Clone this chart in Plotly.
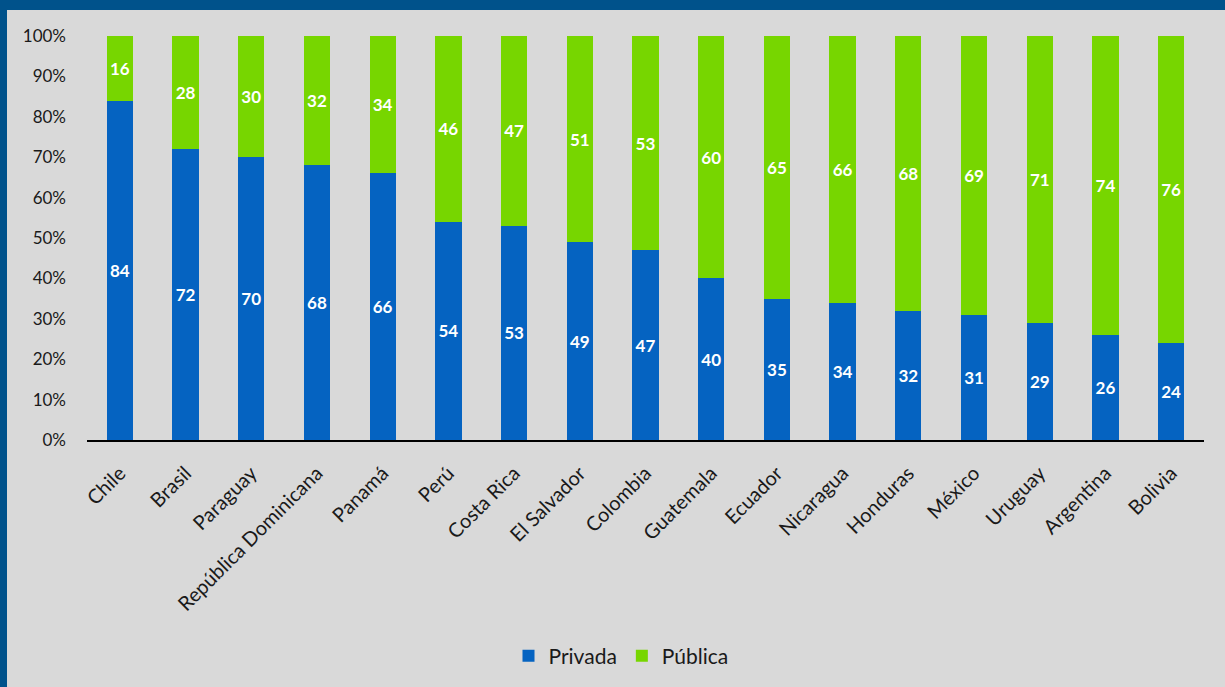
import plotly.graph_objects as go

countries = ["Chile", "Brasil", "Paraguay", "República Dominicana", "Panamá", "Perú",
             "Costa Rica", "El Salvador", "Colombia", "Guatemala", "Ecuador", "Nicaragua",
             "Honduras", "México", "Uruguay", "Argentina", "Bolivia"]
privada = [84, 72, 70, 68, 66, 54, 53, 49, 47, 40, 35, 34, 32, 31, 29, 26, 24]
publica = [16, 28, 30, 32, 34, 46, 47, 51, 53, 60, 65, 66, 68, 69, 71, 74, 76]
y_ticks = [0, 10, 20, 30, 40, 50, 60, 70, 80, 90, 100]
y_tick_labels = [f"{v}%" for v in y_ticks]

BLUE = "#0563c1"
GREEN = "#77d600"
BG = "#d9d9d9"
FRAME = "#00528b"
FONT = "Lato"

fig = go.Figure()
for name, vals, col in [("Privada", privada, BLUE), ("Pública", publica, GREEN)]:
    fig.add_trace(go.Bar(
        x=countries, y=vals, name=name, marker=dict(color=col, line=dict(width=0)),
        text=[str(v) for v in vals], textposition="inside", insidetextanchor="middle",
        textangle=0, constraintext="none",
        textfont=dict(family=FONT, size=17, color="white", weight="bold"),
    ))

W, H = 1225, 687
L, R, T, B = 87, 21, 36, 246
pw, ph = W - L - R, H - T - B


def px_x(p):
    return (p - L) / pw


def px_y(p):
    return (H - B - p) / ph


fig.update_layout(
    width=W, height=H,
    barmode="stack", bargap=0.6,
    paper_bgcolor=BG, plot_bgcolor=BG,
    margin=dict(l=L, r=R, t=T, b=B, pad=0),
    font=dict(family=FONT, size=16, color="#1a1a1a"),
    showlegend=True,
    legend=dict(orientation="h", x=px_x(621), xanchor="center", y=px_y(656), yanchor="middle",
                font=dict(family=FONT, size=21, color="#1a1a1a"),
                bgcolor="rgba(0,0,0,0)", itemwidth=30, traceorder="normal"),
    xaxis=dict(type="category", tickangle=-45, showgrid=False, showline=True,
               linecolor="#000000", linewidth=1.5, ticks="", tickfont=dict(size=20),
               ticklabelstandoff=12, fixedrange=True),
    yaxis=dict(range=[0, 100], tickvals=y_ticks, ticktext=y_tick_labels, showgrid=False,
               zeroline=False, showline=False, ticks="", tickfont=dict(size=17),
               ticklabelstandoff=20, fixedrange=True),
    shapes=[
        dict(type="rect", xref="paper", yref="paper", x0=-1, x1=2, y0=px_y(10), y1=3,
             fillcolor=FRAME, line=dict(width=0), layer="below"),
        dict(type="rect", xref="paper", yref="paper", x0=-1, x1=px_x(7), y0=-3, y1=3,
             fillcolor=FRAME, line=dict(width=0), layer="below"),
    ],
)

fig.write_html("out.html", config={"displayModeBar": False},
               post_script="document.body.style.margin='0';document.body.style.padding='0';")
